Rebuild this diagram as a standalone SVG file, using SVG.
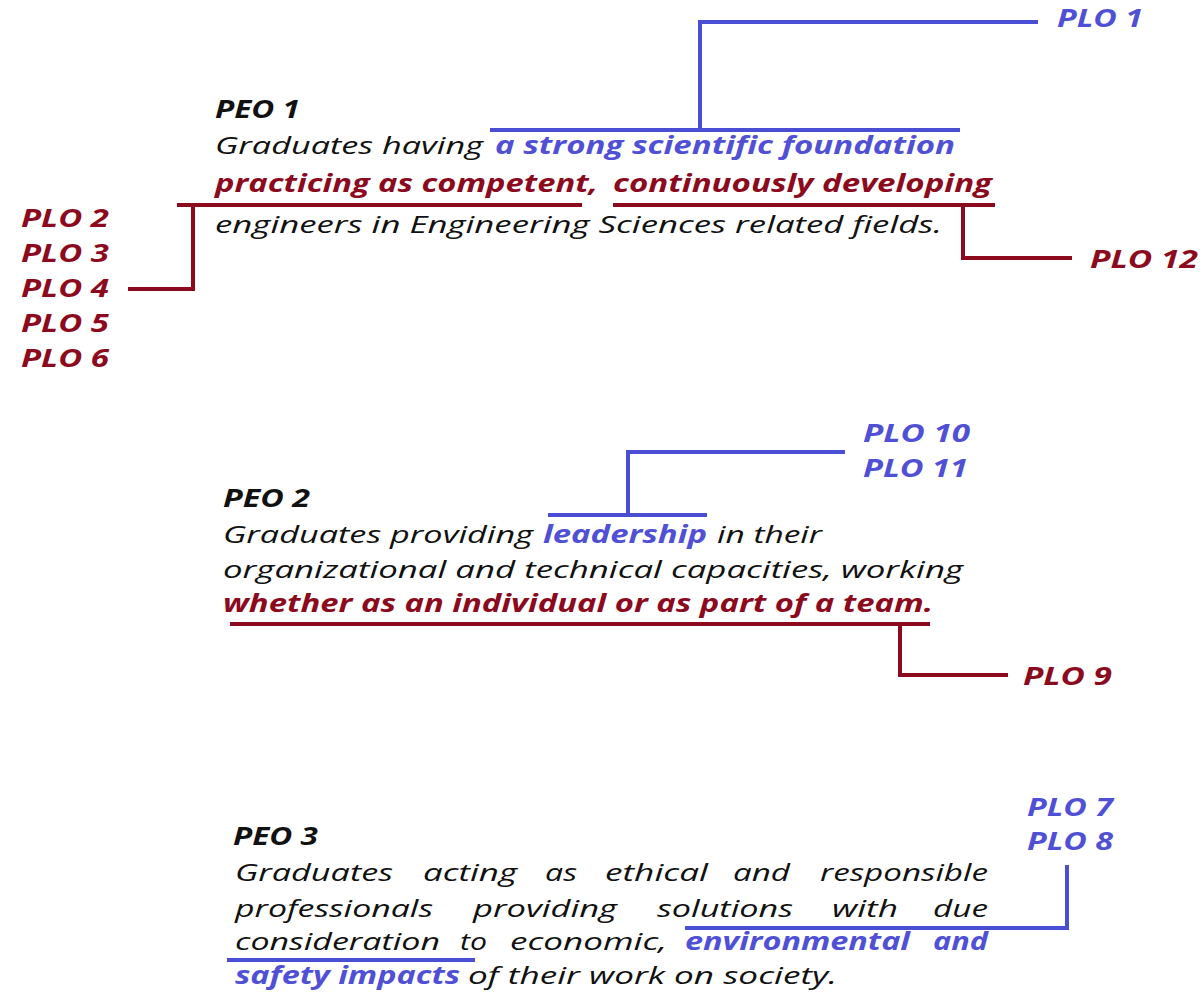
<svg xmlns="http://www.w3.org/2000/svg" width="1202" height="994" viewBox="0 0 1202 994">
<style>
text{font-family:"Open Sans","Liberation Sans",sans-serif;font-style:italic;font-size:24.5px;}
.k{fill:#111111;}
.b{font-weight:bold;}
.bl{fill:#4F50D6;font-weight:bold;}
.rd{fill:#8C0A1E;font-weight:bold;}
.lb{fill:none;stroke:#4A4ED4;stroke-width:4;}
.lr{fill:none;stroke:#8C0A1E;stroke-width:4;}
</style>
<rect width="1202" height="994" fill="#ffffff"/>
<g id="connectors">
<polyline class="lb" points="490,130 960,130"/>
<polyline class="lb" points="700,130 700,22 1038,22"/>
<polyline class="lr" points="177,205 582,205"/>
<polyline class="lr" points="613,205 995,205"/>
<polyline class="lr" points="193,205 193,289 128,289"/>
<polyline class="lr" points="963,205 963,258 1072,258"/>
<polyline class="lb" points="548,515 707,515"/>
<polyline class="lb" points="628,515 628,452 845,452"/>
<polyline class="lr" points="230,624 930,624"/>
<polyline class="lr" points="900,624 900,675 1008,675"/>
<polyline class="lb" points="227,960 475,960"/>
<polyline class="lb" points="685,928 1067,928 1067,865"/>
</g>
<g id="peo1">
<text class="k b" x="215" y="118" textLength="85" lengthAdjust="spacingAndGlyphs">PEO 1</text>
<text class="k" x="215" y="154" textLength="268" lengthAdjust="spacingAndGlyphs">Graduates having</text>
<text class="bl" x="495" y="154" textLength="460" lengthAdjust="spacingAndGlyphs">a strong scientific foundation</text>
<text class="rd" x="215" y="192" textLength="383" lengthAdjust="spacingAndGlyphs">practicing as competent,</text>
<text class="rd" x="613" y="192" textLength="379" lengthAdjust="spacingAndGlyphs">continuously developing</text>
<text class="k" x="215" y="233" textLength="727" lengthAdjust="spacingAndGlyphs">engineers in Engineering Sciences related fields.</text>
</g>
<g id="peo2">
<text class="k b" x="223" y="507" textLength="87" lengthAdjust="spacingAndGlyphs">PEO 2</text>
<text class="k" x="223" y="543" textLength="310" lengthAdjust="spacingAndGlyphs">Graduates providing</text>
<text class="bl" x="543" y="543" textLength="164" lengthAdjust="spacingAndGlyphs">leadership</text>
<text class="k" x="717" y="543" textLength="105" lengthAdjust="spacingAndGlyphs">in their</text>
<text class="k" x="223" y="578" textLength="740" lengthAdjust="spacingAndGlyphs">organizational and technical capacities, working</text>
<text class="rd" x="223" y="612" textLength="710" lengthAdjust="spacingAndGlyphs">whether as an individual or as part of a team.</text>
</g>
<g id="peo3">
<text class="k b" x="233" y="845" textLength="85" lengthAdjust="spacingAndGlyphs">PEO 3</text>
<text class="k" x="235" y="881" textLength="158" lengthAdjust="spacingAndGlyphs">Graduates</text>
<text class="k" x="423" y="881" textLength="94" lengthAdjust="spacingAndGlyphs">acting</text>
<text class="k" x="545" y="881" textLength="32" lengthAdjust="spacingAndGlyphs">as</text>
<text class="k" x="605" y="881" textLength="103" lengthAdjust="spacingAndGlyphs">ethical</text>
<text class="k" x="733" y="881" textLength="57" lengthAdjust="spacingAndGlyphs">and</text>
<text class="k" x="820" y="881" textLength="168" lengthAdjust="spacingAndGlyphs">responsible</text>
<text class="k" x="235" y="917" textLength="198" lengthAdjust="spacingAndGlyphs">professionals</text>
<text class="k" x="473" y="917" textLength="144" lengthAdjust="spacingAndGlyphs">providing</text>
<text class="k" x="657" y="917" textLength="136" lengthAdjust="spacingAndGlyphs">solutions</text>
<text class="k" x="832" y="917" textLength="66" lengthAdjust="spacingAndGlyphs">with</text>
<text class="k" x="933" y="917" textLength="55" lengthAdjust="spacingAndGlyphs">due</text>
<text class="k" x="235" y="950" textLength="205" lengthAdjust="spacingAndGlyphs">consideration</text>
<text class="k" x="460" y="950" textLength="27" lengthAdjust="spacingAndGlyphs">to</text>
<text class="k" x="510" y="950" textLength="157" lengthAdjust="spacingAndGlyphs">economic,</text>
<text class="bl" x="685" y="950" textLength="225" lengthAdjust="spacingAndGlyphs">environmental</text>
<text class="bl" x="933" y="950" textLength="55" lengthAdjust="spacingAndGlyphs">and</text>
<text class="bl" x="235" y="984" textLength="225" lengthAdjust="spacingAndGlyphs">safety impacts</text>
<text class="k" x="468" y="984" textLength="369" lengthAdjust="spacingAndGlyphs">of their work on society.</text>
</g>
<g id="plo1"><text class="bl" x="1057" y="27" textLength="86" lengthAdjust="spacingAndGlyphs">PLO 1</text></g>
<g id="plo12"><text class="rd" x="1090" y="268" textLength="108" lengthAdjust="spacingAndGlyphs">PLO 12</text></g>
<g id="plo2-6">
<text class="rd" x="21" y="227" textLength="88" lengthAdjust="spacingAndGlyphs">PLO 2</text>
<text class="rd" x="21" y="262" textLength="88" lengthAdjust="spacingAndGlyphs">PLO 3</text>
<text class="rd" x="21" y="297" textLength="88" lengthAdjust="spacingAndGlyphs">PLO 4</text>
<text class="rd" x="21" y="332" textLength="88" lengthAdjust="spacingAndGlyphs">PLO 5</text>
<text class="rd" x="21" y="367" textLength="88" lengthAdjust="spacingAndGlyphs">PLO 6</text>
</g>
<g id="plo10-11">
<text class="bl" x="863" y="442" textLength="107" lengthAdjust="spacingAndGlyphs">PLO 10</text>
<text class="bl" x="863" y="477" textLength="105" lengthAdjust="spacingAndGlyphs">PLO 11</text>
</g>
<g id="plo9"><text class="rd" x="1023" y="685" textLength="89" lengthAdjust="spacingAndGlyphs">PLO 9</text></g>
<g id="plo7-8">
<text class="bl" x="1027" y="816" textLength="86" lengthAdjust="spacingAndGlyphs">PLO 7</text>
<text class="bl" x="1027" y="850" textLength="86" lengthAdjust="spacingAndGlyphs">PLO 8</text>
</g>
</svg>
